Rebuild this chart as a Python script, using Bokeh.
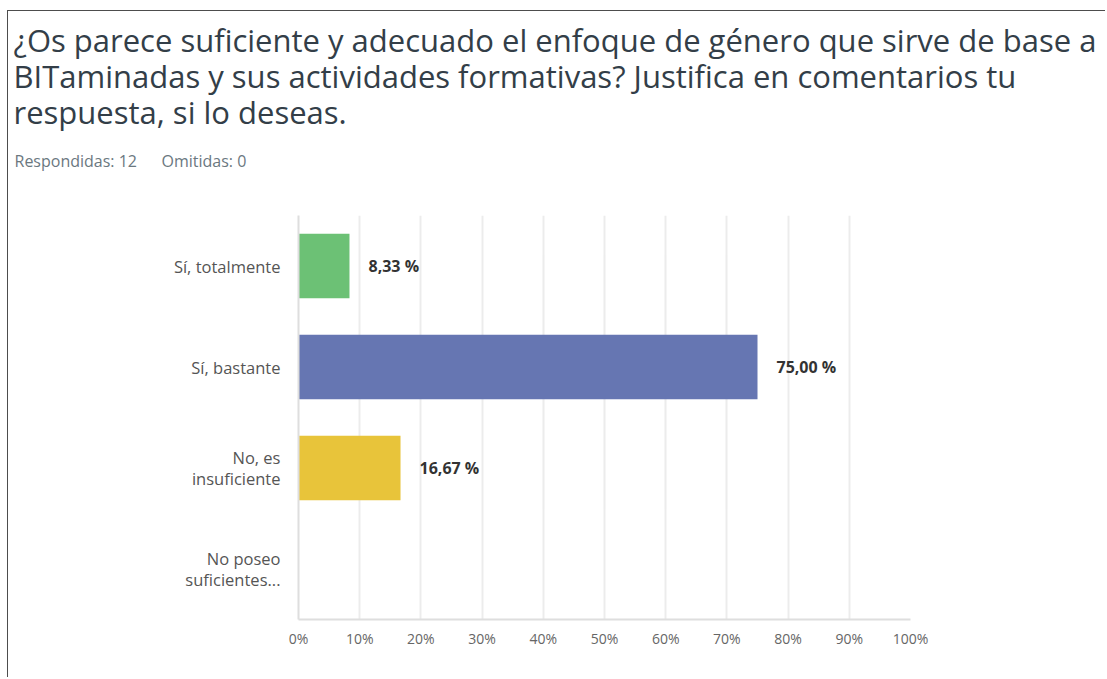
from bokeh.plotting import figure
from bokeh.layouts import column
from bokeh.models import Range1d, FactorRange, Label, ColumnDataSource, FixedTicker, CustomJSTickFormatter
from bokeh.core.properties import value
from bokeh.embed import file_html
from bokeh.resources import INLINE

# ---- data ----
categories = ["Sí, totalmente", "Sí, bastante", "No, es\ninsuficiente", "No poseo\nsuficientes..."]
percents = [8.33, 75.00, 16.67, 0.0]
value_labels = ["8,33 %", "75,00 %", "16,67 %", ""]
bar_colors = ["#6cc175", "#6676b2", "#e8c43a", "#6cc175"]
x_ticks = [0, 10, 20, 30, 40, 50, 60, 70, 80, 90, 100]
title_lines = [
    "¿Os parece suficiente y adecuado el enfoque de género que sirve de base a",
    "BITaminadas y sus actividades formativas? Justifica en comentarios tu",
    "respuesta, si lo deseas.",
]
answered_text = "Respondidas: 12"
skipped_text = "Omitidas: 0"

FONT = "Open Sans"
TITLE_FONT = "Open Sans"

# page origin of the layout content (margin + border)
OX, OY = 8, 11
W = 1097
HH = 190          # header height
H = 476           # chart height
FL = 290          # frame left in chart canvas
FW = 612          # frame width
FT = 204 - HH     # frame top in chart canvas (page 215)
FH = 404          # frame height

# ---------- header ----------
hdr = figure(width=W, height=HH, x_range=Range1d(0, 1), y_range=Range1d(0, 1),
             output_backend="svg", toolbar_location=None,
             x_axis_location=None, y_axis_location=None,
             min_border=0, min_border_left=0, min_border_right=0,
             min_border_top=0, min_border_bottom=0)
hdr.outline_line_color = None
hdr.grid.visible = False
hdr.frame_align = False

def hx(px):
    return px - OX

def hy(py):
    return HH - (py - OY)

for i, line in enumerate(title_lines):
    hdr.add_layout(Label(x=hx(13), y=hy(39 + 36 * i), x_units="screen", y_units="screen",
                         text=line, text_font=TITLE_FONT, text_font_size="31px",
                         text_color="#333e48", text_baseline="alphabetic"))

hdr.add_layout(Label(x=hx(14), y=hy(160), x_units="screen", y_units="screen",
                     text=answered_text, text_font=FONT, text_font_size="16px",
                     text_color="#6b787f", text_baseline="alphabetic"))
hdr.add_layout(Label(x=hx(161), y=hy(160), x_units="screen", y_units="screen",
                     text=skipped_text, text_font=FONT, text_font_size="16px",
                     text_color="#6b787f", text_baseline="alphabetic"))

# ---------- chart ----------
src = ColumnDataSource(dict(cat=categories, pct=percents, lab=value_labels, col=bar_colors))

p = figure(
    width=W, height=H,
    x_range=Range1d(0, 100),
    y_range=FactorRange(factors=list(reversed(categories))),
    output_backend="svg", toolbar_location=None,
    min_border_left=FL, min_border_right=W - FL - FW,
    min_border_top=FT, min_border_bottom=H - FT - FH,
)
p.outline_line_color = None
p.frame_align = False

p.hbar(y="cat", right="pct", left=0, height=0.64, fill_color="col", line_color=None, source=src)
p.text(x="pct", y="cat", text="lab", source=src, x_offset=19,
       text_baseline="middle", text_align="left",
       text_font=value(FONT), text_font_size="16px", text_font_style="bold", text_color="#333333")

p.ygrid.grid_line_color = None
p.xgrid.ticker = FixedTicker(ticks=x_ticks)
p.xgrid.grid_line_color = "#ececec"
p.xgrid.grid_line_width = 2

xa = p.xaxis[0]
xa.ticker = FixedTicker(ticks=x_ticks)
xa.formatter = CustomJSTickFormatter(code="return tick.toFixed(0) + '%';")
xa.axis_line_color = "#dedede"
xa.axis_line_width = 2
xa.major_tick_line_color = None
xa.major_tick_out = 0
xa.major_tick_in = 0
xa.minor_tick_line_color = None
xa.major_label_standoff = 9
xa.major_label_text_font = FONT
xa.major_label_text_font_size = "14px"
xa.major_label_text_color = "#666666"

ya = p.yaxis[0]
ya.axis_line_color = "#dedede"
ya.axis_line_width = 2
ya.major_tick_line_color = None
ya.major_tick_out = 0
ya.major_tick_in = 0
ya.minor_tick_line_color = None
ya.major_label_standoff = 18
ya.major_label_text_font = FONT
ya.major_label_text_font_size = "16.5px"
ya.major_label_text_color = "#555555"
ya.major_label_text_line_height = 0.92

layout = column(hdr, p, spacing=0)
layout.styles = {"border-top": "1px solid #4d4d4d", "border-left": "1px solid #4d4d4d",
                 "margin-left": "7px", "margin-top": "10px"}

open("out.html", "w").write(file_html(layout, INLINE))
